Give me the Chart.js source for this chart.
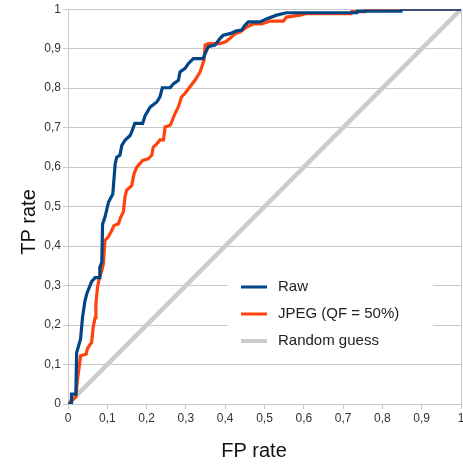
<!DOCTYPE html>
<html>
<head>
<meta charset="utf-8">
<script src="https://cdn.jsdelivr.net/npm/chart.js@4/dist/chart.umd.min.js"></script>
<style>
  html, body { margin: 0; padding: 0; background: #fff; }
  canvas { display: block; }
</style>
</head>
<body>
<canvas id="roc" width="463" height="468"></canvas>
<script>
// ROC curves
const rawFpr = [0, 0.009, 0.009, 0.02, 0.022, 0.032, 0.037, 0.043, 0.048, 0.06, 0.069, 0.08, 0.081, 0.086, 0.088, 0.094, 0.103, 0.114, 0.12, 0.124, 0.132, 0.137, 0.145, 0.158, 0.162, 0.17, 0.19, 0.196, 0.209, 0.226, 0.234, 0.24, 0.26, 0.268, 0.281, 0.285, 0.298, 0.306, 0.319, 0.344, 0.351, 0.357, 0.374, 0.387, 0.395, 0.412, 0.429, 0.442, 0.45, 0.459, 0.489, 0.506, 0.531, 0.556, 0.603, 0.607, 0.735, 0.737, 0.845, 0.847, 1];
const rawTpr = [0, 0, 0.025, 0.025, 0.13, 0.165, 0.22, 0.26, 0.28, 0.31, 0.32, 0.32, 0.346, 0.359, 0.456, 0.473, 0.511, 0.532, 0.608, 0.625, 0.63, 0.655, 0.668, 0.68, 0.689, 0.711, 0.711, 0.73, 0.752, 0.765, 0.778, 0.801, 0.801, 0.811, 0.82, 0.841, 0.85, 0.862, 0.875, 0.875, 0.892, 0.905, 0.909, 0.926, 0.934, 0.938, 0.945, 0.947, 0.959, 0.968, 0.968, 0.976, 0.985, 0.991, 0.991, 0.991, 0.991, 0.995, 0.995, 1, 1];

const jpegFpr = [0, 0.005, 0.02, 0.024, 0.026, 0.032, 0.046, 0.049, 0.056, 0.06, 0.064, 0.069, 0.071, 0.075, 0.08, 0.086, 0.09, 0.094, 0.103, 0.111, 0.117, 0.128, 0.134, 0.141, 0.145, 0.149, 0.162, 0.168, 0.175, 0.19, 0.204, 0.213, 0.217, 0.226, 0.234, 0.243, 0.247, 0.26, 0.272, 0.281, 0.289, 0.298, 0.31, 0.323, 0.336, 0.346, 0.349, 0.357, 0.387, 0.4, 0.412, 0.425, 0.438, 0.455, 0.472, 0.493, 0.514, 0.548, 0.556, 0.59, 0.607, 0.72, 0.722, 0.755, 0.757, 1];
const jpegTpr = [0, 0.005, 0.018, 0.06, 0.075, 0.122, 0.126, 0.139, 0.151, 0.155, 0.194, 0.219, 0.253, 0.295, 0.32, 0.338, 0.355, 0.414, 0.424, 0.439, 0.452, 0.456, 0.473, 0.487, 0.524, 0.541, 0.553, 0.583, 0.6, 0.617, 0.621, 0.63, 0.651, 0.659, 0.669, 0.669, 0.702, 0.706, 0.735, 0.753, 0.778, 0.787, 0.803, 0.82, 0.841, 0.871, 0.909, 0.913, 0.913, 0.917, 0.926, 0.938, 0.942, 0.955, 0.963, 0.963, 0.97, 0.97, 0.98, 0.985, 0.989, 0.989, 0.994, 0.994, 1, 1];

const guessFpr = [0, 1];
const guessTpr = [0, 1];

const seriesNames = ['Raw', 'JPEG (QF = 50%)', 'Random guess'];
const tickLabels = ['0', '0,1', '0,2', '0,3', '0,4', '0,5', '0,6', '0,7', '0,8', '0,9', '1'];
const xTitle = 'FP rate';
const yTitle = 'TP rate';

const toPoints = (xs, ys) => xs.map((x, i) => ({ x: x, y: ys[i] }));

const FONT = '"Liberation Sans", Arial, sans-serif';
const GRID = '#c8c8c8';

// legend inside the plot + axis titles, drawn by hand like the original
const overlay = {
  id: 'overlay',
  afterDraw(chart) {
    const ctx = chart.ctx;
    ctx.save();
    ctx.fillStyle = '#fff';
    ctx.fillRect(228, 268, 205, 88);
    ctx.font = '15px ' + FONT;
    ctx.textBaseline = 'middle';
    chart.data.datasets.forEach((ds, i) => {
      const y = 287 + i * 27;
      ctx.strokeStyle = ds.borderColor;
      ctx.lineWidth = ds.legendWidth;
      ctx.beginPath();
      ctx.moveTo(241, y);
      ctx.lineTo(267, y);
      ctx.stroke();
      ctx.fillStyle = '#222';
      ctx.fillText(ds.label, 278, y);
    });

    ctx.font = '20px ' + FONT;
    ctx.fillStyle = '#111';
    ctx.textAlign = 'center';
    ctx.fillText(xTitle, 254, 451);
    ctx.translate(29, 222);
    ctx.rotate(-Math.PI / 2);
    ctx.fillText(yTitle, 0, 0);
    ctx.restore();
  }
};

new Chart(document.getElementById('roc'), {
  type: 'scatter',
  data: {
    datasets: [
      { label: seriesNames[0], data: toPoints(rawFpr, rawTpr), borderColor: '#004586', borderWidth: 3.2, legendWidth: 3, showLine: true, pointRadius: 0 },
      { label: seriesNames[1], data: toPoints(jpegFpr, jpegTpr), borderColor: '#ff420e', borderWidth: 3.2, legendWidth: 3, showLine: true, pointRadius: 0 },
      { label: seriesNames[2], data: toPoints(guessFpr, guessTpr), borderColor: '#cccccc', borderWidth: 4.5, legendWidth: 4, showLine: true, pointRadius: 0 }
    ]
  },
  options: {
    responsive: false,
    animation: false,
    devicePixelRatio: 1,
    layout: { padding: { top: 9, right: 0, bottom: 0, left: 0 } },
    plugins: { legend: { display: false }, tooltip: { enabled: false } },
    scales: {
      x: {
        type: 'linear', min: 0, max: 1,
        afterFit(scale) {
          scale.height = 64;
          // let the last label "1" hang off the edge as in the original
          scale.paddingRight = 2;
          scale.paddingLeft = 0;
        },
        grid: {
          drawOnChartArea: true,
          color: c => (c.tick && Math.abs(c.tick.value - 1) < 1e-6 ? GRID : 'rgba(0,0,0,0)'),
          tickColor: GRID, tickLength: 5
        },
        border: { color: GRID },
        ticks: {
          stepSize: 0.1, padding: 2, color: '#333', maxRotation: 0,
          font: { family: FONT, size: 12 },
          callback: (v, i) => tickLabels[i]
        }
      },
      y: {
        type: 'linear', min: 0, max: 1,
        afterFit(scale) { scale.width = 68; },
        grid: { color: GRID, tickColor: GRID, tickLength: 5 },
        border: { color: GRID },
        ticks: {
          stepSize: 0.1, padding: 2, color: '#333',
          font: { family: FONT, size: 12 },
          callback: (v, i) => tickLabels[i]
        }
      }
    }
  },
  plugins: [overlay]
});
</script>
</body>
</html>
